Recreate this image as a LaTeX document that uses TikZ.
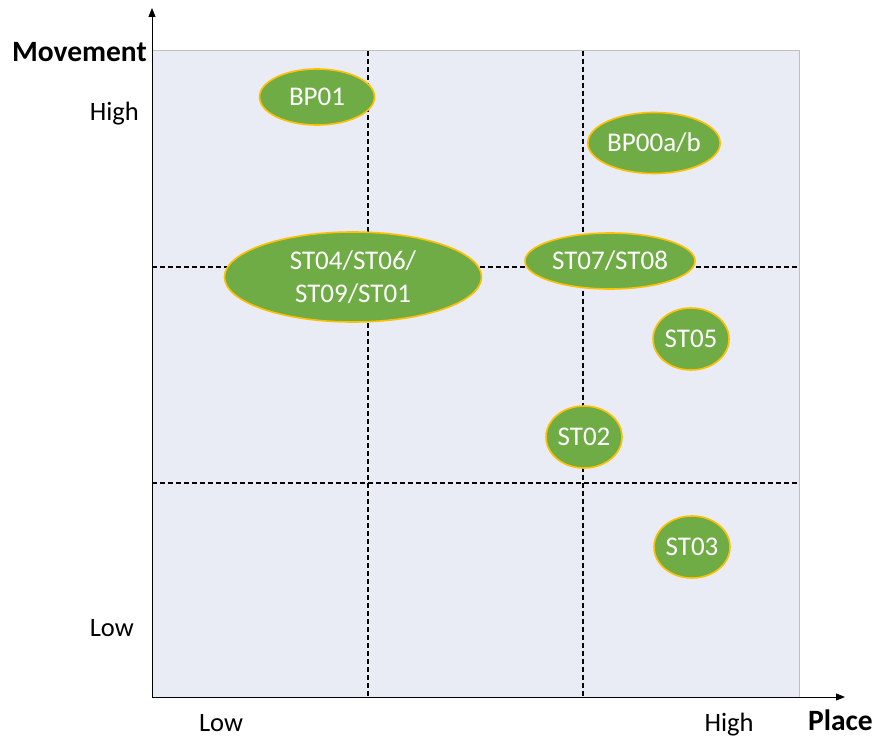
\documentclass[tikz,border=0pt]{standalone}
\usepackage{fontspec}
\setmainfont{Carlito}
\usetikzlibrary{arrows.meta,shapes.geometric}
\definecolor{plotbg}{HTML}{E9EBF5}
\definecolor{bubblefill}{HTML}{6FAC46}
\definecolor{bubbleline}{HTML}{FFC000}
\definecolor{frameline}{HTML}{BFBFBF}
\tikzset{
  bubble/.style={ellipse, fill=bubblefill, draw=bubbleline, line width=1.6pt, inner sep=0pt, text=white, align=center, font=\fontsize{27}{33}\selectfont},
  axislabel/.style={font=\fontsize{26.5}{30}\selectfont, text=black, inner sep=0pt},
  axistitle/.style={font=\bfseries\fontsize{29.5}{34}\selectfont, text=black, inner sep=0pt},
  grid line/.style={dash pattern=on 5pt off 3pt, line width=1.1pt, black},
  axis arrow/.style={line width=1pt, -{Triangle[length=9pt,width=7pt]}}
}
\begin{document}
\begin{tikzpicture}[x=1pt,y=-1pt]
\useasboundingbox (0,0) rectangle (878,738);
% plot area
\fill[plotbg] (152,51) rectangle (799,697);
\draw[frameline, line width=1pt] (152,51) -- (799,51) -- (799,697);
% grid
\coordinate (v1t) at (368,51); \coordinate (v1b) at (368,697);
\coordinate (v2t) at (583,51); \coordinate (v2b) at (583,697);
\coordinate (h1l) at (152,267); \coordinate (h1r) at (799,267);
\coordinate (h2l) at (152,483); \coordinate (h2r) at (799,483);
\draw[grid line] (v1t) -- (v1b);
\draw[grid line] (v2t) -- (v2b);
\draw[grid line] (h1l) -- (h1r);
\draw[grid line] (h2l) -- (h2r);
% axes
\coordinate (origin) at (152,697);
\coordinate (ytop) at (152,8);
\coordinate (xend) at (845,697);
\draw[axis arrow] (origin) -- (ytop);
\draw[axis arrow] (origin) -- (xend);
% axis labels
\node[axistitle, anchor=base east] (mov) at (147,62) {Movement};
\node[axislabel, anchor=base east] (yhigh) at (139,121) {High};
\node[axislabel, anchor=base east] (ylow) at (134,636) {Low};
\node[axislabel, anchor=base] (xlow) at (221,731) {Low};
\node[axislabel, anchor=base] (xhigh) at (729,731) {High};
\node[axistitle, anchor=base east] (place) at (873,730) {Place};
% bubbles
\node[bubble, minimum width=115pt, minimum height=56pt] (bp01) at (317,97) {BP01};
\node[bubble, minimum width=106pt, minimum height=61pt] (bp00) at (654,143) {BP00a/b};
\node[bubble, minimum width=257pt, minimum height=90pt] (st04) at (353,277) {ST04/ST06/\\ST09/ST01};
\node[bubble, minimum width=170pt, minimum height=56pt] (st07) at (610,261) {ST07/ST08};
\node[bubble, minimum width=76pt, minimum height=62pt] (st05) at (691,339) {ST05};
\node[bubble, minimum width=76pt, minimum height=62pt] (st02) at (584,437) {ST02};
\node[bubble, minimum width=76pt, minimum height=62pt] (st03) at (692,547) {ST03};
\end{tikzpicture}
\end{document}
